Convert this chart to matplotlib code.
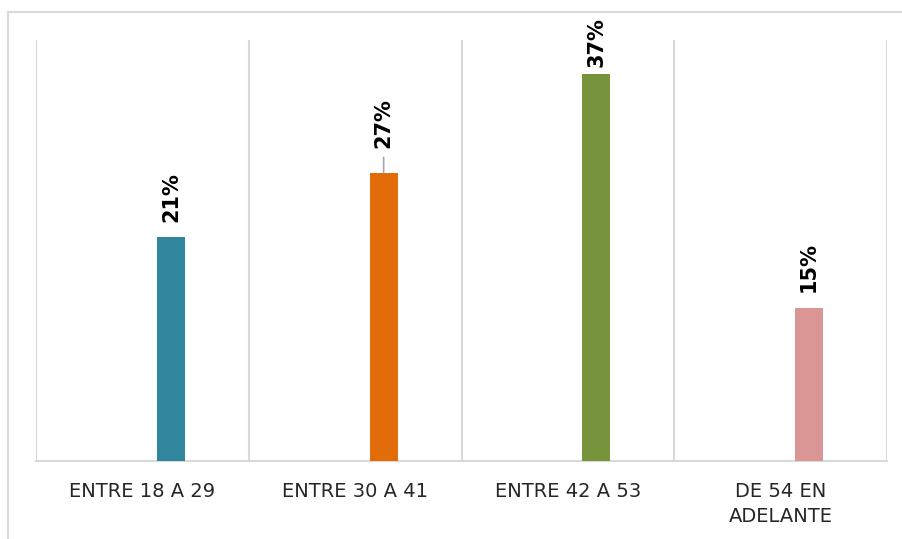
import numpy as np
import matplotlib
matplotlib.use("Agg")
import matplotlib.pyplot as plt
from matplotlib.patches import Rectangle

categories = ["ENTRE 18 A 29", "ENTRE 30 A 41", "ENTRE 42 A 53", "DE 54 EN\nADELANTE"]
values = [21.3, 27.4, 36.8, 14.5]
labels = ["21%", "27%", "37%", "15%"]
colors = ["#31859c", "#e36c0a", "#77933c", "#d99694"]

# label gap above bar (points), 27% has a leader line
label_gap = [11, 18, 5, 12]

fig = plt.figure(figsize=(9.02, 5.39), dpi=100)
ax = fig.add_axes([36 / 902, 1 - 461 / 539, (887 - 36) / 902, (461 - 40) / 539])

x = np.arange(len(categories))
offset = 0.134
width = 0.132
ax.bar(x + offset, values, width=width, color=colors, zorder=3)

for xi, v, lab, gap in zip(x, values, labels, label_gap):
    ax.annotate(lab, (xi + offset, v), xytext=(0, gap), textcoords="offset points",
                rotation=90, ha="center", va="bottom", fontsize=15,
                fontweight="bold", color="black")
    if gap > 15:
        ax.annotate("", (xi + offset, v), xytext=(0, gap - 7), textcoords="offset points",
                    arrowprops=dict(arrowstyle="-", color="#a6a6a6", lw=1.2,
                                    shrinkA=0, shrinkB=0))

ax.set_xlim(-0.5, len(categories) - 0.5)
ax.set_ylim(0, 40)
for b in np.arange(-0.5, len(categories), 1.0):
    ax.axvline(b, color="#d9d9d9", lw=1.5, zorder=1)

for s in ["top", "right", "left"]:
    ax.spines[s].set_visible(False)
ax.spines["bottom"].set_color("#d9d9d9")
ax.spines["bottom"].set_linewidth(1.5)
ax.set_yticks([])
ax.set_xticks(x)
ax.set_xticklabels(categories, fontsize=14, color="#262626", linespacing=1.4)
ax.tick_params(axis="x", length=0, pad=15)

fig.patches.append(Rectangle((8 / 902, -0.1), 1.1, 1 - 12 / 539 + 0.1,
                             transform=fig.transFigure, fill=False,
                             edgecolor="#d9d9d9", lw=1.5, zorder=0))

fig.savefig("out.png", dpi=100)
